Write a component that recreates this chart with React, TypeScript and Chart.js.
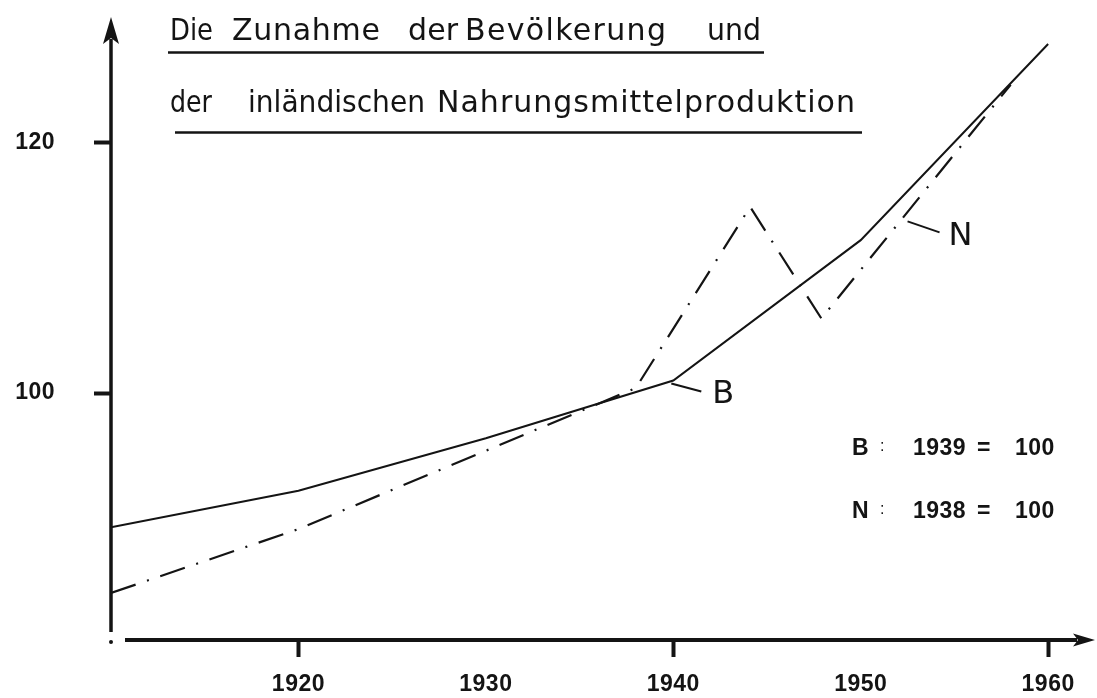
import { useEffect, useRef } from "react";
import { Chart, registerables } from "chart.js";

Chart.register(...registerables);

// ---- data ----
const bevYears = [1910, 1920, 1930, 1940, 1950, 1960];
const bevValues = [89.3, 92.2, 96.4, 101.0, 112.2, 127.85];
const nahYears = [1910, 1920, 1938, 1944.1, 1947.9, 1958];
const nahValues = [84.05, 89.15, 100.4, 114.85, 105.95, 124.6];
const xTickYears = [1920, 1930, 1940, 1950, 1960];
const xMarkedYears = [1920, 1940, 1960];
const yTickValues = [100, 120];
const titleLine1 = ["Die", "Zunahme", "der", "Bevölkerung", "und"];
const titleLine2 = ["der", "inländischen", "Nahrungsmittelproduktion"];
const legendRowB = ["B", ":", "1939", "=", "100"];
const legendRowN = ["N", ":", "1938", "=", "100"];
const seriesLabels = ["B", "N"];

// ---- layout (pixels) ----
const INK = "#141414";
const TITLE_FONT = "30px 'DejaVu Sans', sans-serif";
const NUM_FAMILY = "'Liberation Sans', Arial, sans-serif";
const NUM_FONT = `bold 23px ${NUM_FAMILY}`;
const title1Spans = [[170, 213], [232, 380], [408, 458], [465, 666], [707, 761]];
const title2Spans = [[170, 212], [248, 425], [437, 855]];
const legendCols = [852, 880, 913, 977, 1015];

function drawFitted(ctx: CanvasRenderingContext2D, text: string, x0: number, x1: number, baseline: number) {
  ctx.save();
  ctx.letterSpacing = "0px";
  ctx.textAlign = "left";
  ctx.textBaseline = "alphabetic";
  const w = ctx.measureText(text).width;
  const n = [...text].length;
  const target = x1 - x0;
  if (n < 2) {
    ctx.fillText(text, x0, baseline);
  } else if (w > target) {
    ctx.translate(x0, baseline);
    ctx.scale(target / w, 1);
    ctx.fillText(text, 0, 0);
  } else {
    ctx.letterSpacing = `${(target - w) / (n - 1)}px`;
    ctx.fillText(text, x0, baseline);
  }
  ctx.restore();
}

const overlayPlugin = {
  id: "overlay",
  beforeDraw(chart: any) {
    chart.ctx.letterSpacing = "0.5px";
  },
  afterDraw(chart: any) {
    const ctx: CanvasRenderingContext2D = chart.ctx;
    const { left, right, top, bottom } = chart.chartArea;
    const xs = chart.scales.x;
    const ys = chart.scales.y;
    ctx.save();
    ctx.letterSpacing = "0px";
    ctx.fillStyle = INK;
    ctx.strokeStyle = INK;
    ctx.lineCap = "butt";

    // y axis with arrow
    ctx.lineWidth = 3.5;
    ctx.beginPath();
    ctx.moveTo(left, bottom - 8);
    ctx.lineTo(left, top + 22);
    ctx.stroke();
    ctx.beginPath();
    ctx.moveTo(left, top);
    ctx.lineTo(left + 8, top + 27);
    ctx.lineTo(left, top + 21);
    ctx.lineTo(left - 8, top + 27);
    ctx.closePath();
    ctx.fill();

    // x axis with arrow
    ctx.lineWidth = 4;
    ctx.beginPath();
    ctx.moveTo(left + 14, bottom);
    ctx.lineTo(right - 18, bottom);
    ctx.stroke();
    ctx.beginPath();
    ctx.moveTo(right, bottom);
    ctx.lineTo(right - 22, bottom - 6.5);
    ctx.lineTo(right - 17, bottom);
    ctx.lineTo(right - 22, bottom + 6.5);
    ctx.closePath();
    ctx.fill();

    // corner dot
    ctx.beginPath();
    ctx.arc(left, bottom + 2, 2, 0, Math.PI * 2);
    ctx.fill();

    // title
    ctx.font = TITLE_FONT;
    titleLine1.forEach((w, i) => drawFitted(ctx, w, title1Spans[i][0], title1Spans[i][1], 40));
    titleLine2.forEach((w, i) => drawFitted(ctx, w, title2Spans[i][0], title2Spans[i][1], 112));
    ctx.lineWidth = 2.5;
    ctx.beginPath();
    ctx.moveTo(168, 52.5);
    ctx.lineTo(764, 52.5);
    ctx.moveTo(175, 132.5);
    ctx.lineTo(862, 132.5);
    ctx.stroke();

    // series labels with leader lines
    const bx = xs.getPixelForValue(bevYears[3]);
    const by = ys.getPixelForValue(bevValues[3]);
    ctx.lineWidth = 2;
    ctx.beginPath();
    ctx.moveTo(bx - 2, by + 3);
    ctx.lineTo(bx + 28, by + 11);
    ctx.stroke();
    ctx.font = "32px 'DejaVu Sans', sans-serif";
    drawFitted(ctx, seriesLabels[0], bx + 39, bx + 60, by + 22);

    const nx = xs.getPixelForValue(1952.5);
    const ny = ys.getPixelForValue(113.7);
    ctx.beginPath();
    ctx.moveTo(nx, ny);
    ctx.lineTo(nx + 32, ny + 11);
    ctx.stroke();
    drawFitted(ctx, seriesLabels[1], nx + 41, nx + 62, ny + 24);

    // legend text
    ctx.letterSpacing = "0.5px";
    ctx.textAlign = "left";
    ctx.textBaseline = "alphabetic";
    [legendRowB, legendRowN].forEach((row, r) => {
      const base = r === 0 ? 455 : 518;
      row.forEach((t, i) => {
        ctx.font = t === ":" ? `16px ${NUM_FAMILY}` : NUM_FONT;
        ctx.fillText(t, legendCols[i], t === ":" ? base - 4 : base);
      });
    });
    ctx.restore();
  },
};

export default function App() {
  const ref = useRef<HTMLCanvasElement>(null);
  useEffect(() => {
    const canvas = ref.current!;
    const chart = new Chart(canvas, {
      type: "line",
      data: {
        datasets: [
          {
            label: "Bevölkerung (B)",
            data: bevYears.map((y, i) => ({ x: y, y: bevValues[i] })),
            borderColor: INK,
            borderWidth: 2,
            pointRadius: 0,
            tension: 0,
            fill: false,
          },
          {
            label: "Nahrungsmittelproduktion (N)",
            data: nahYears.map((y, i) => ({ x: y, y: nahValues[i] })),
            borderColor: INK,
            borderWidth: 2.2,
            borderDash: [26, 12, 2, 12],
            borderCapStyle: "butt",
            pointRadius: 0,
            tension: 0,
            fill: false,
          },
        ],
      },
      options: {
        responsive: false,
        animation: false,
        layout: { padding: { left: 11, top: 17, right: 2, bottom: 0 } },
        plugins: { legend: { display: false }, tooltip: { enabled: false }, title: { display: false } },
        scales: {
          x: {
            type: "linear",
            min: 1910,
            max: 1962.5,
            afterBuildTicks: (s: any) => {
              s.ticks = xTickYears.map((v) => ({ value: v }));
            },
            afterFit: (s: any) => {
              s.height = 58;
              s.paddingLeft = 0;
              s.paddingRight = 0;
            },
            border: { display: false },
            grid: {
              drawOnChartArea: false,
              drawTicks: true,
              tickLength: 17,
              tickWidth: 4,
              tickColor: (c: any) => (c.tick && xMarkedYears.includes(c.tick.value) ? INK : "rgba(0,0,0,0)"),
            },
            ticks: {
              autoSkip: false,
              maxRotation: 0,
              padding: 14,
              color: INK,
              font: { family: NUM_FAMILY, size: 23, weight: "bold" },
              callback: (v: any) => String(v),
            },
          },
          y: {
            type: "linear",
            min: 80.3,
            max: 130,
            afterBuildTicks: (s: any) => {
              s.ticks = yTickValues.map((v) => ({ value: v }));
            },
            afterFit: (s: any) => {
              s.width = 100;
              s.paddingTop = 0;
              s.paddingBottom = 0;
            },
            border: { display: false },
            grid: {
              drawOnChartArea: false,
              drawTicks: true,
              tickLength: 17,
              tickWidth: 4,
              tickColor: INK,
            },
            ticks: {
              padding: 39,
              color: INK,
              font: { family: NUM_FAMILY, size: 23, weight: "bold" },
              callback: (v: any) => String(v),
            },
          },
        },
      },
      plugins: [overlayPlugin],
    } as any);
    return () => chart.destroy();
  }, []);
  return (
    <div style={{ position: "fixed", left: 0, top: 0, width: 1097, height: 698, background: "#fff" }}>
      <canvas ref={ref} width={1097} height={698} style={{ display: "block" }} />
    </div>
  );
}
